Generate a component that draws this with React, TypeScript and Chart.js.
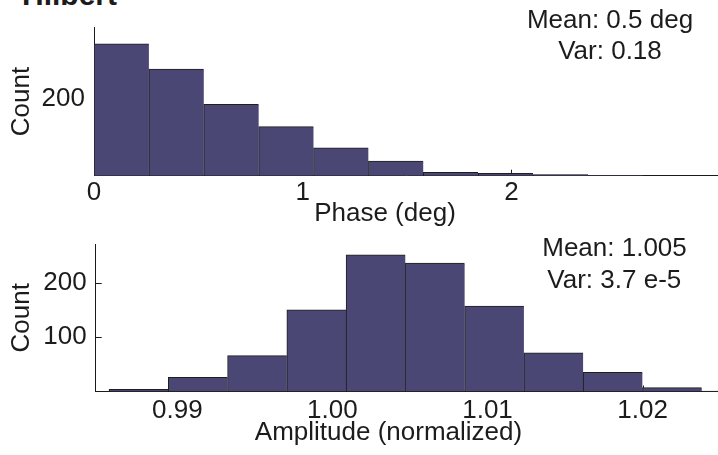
import React, { useEffect, useRef } from "react";
import { Chart, registerables } from "chart.js";

Chart.register(...registerables);

// ---- Data ----
const phaseBinCenters = [0.1315, 0.3945, 0.6575, 0.9205, 1.1835, 1.4465, 1.7095, 1.9725, 2.2355, 2.4985];
const phaseCounts = [344, 278, 186, 128, 73, 38, 9, 6, 3, 1];
const phaseTicks = [0, 1, 2];
const phaseCountTicks = [200];

const ampBinCenters = [
  0.9875105, 0.9913315, 0.9951525, 0.9989735, 1.0027945, 1.0066155,
  1.0104365, 1.0142575, 1.0180785, 1.0218995, 1.0257205,
];
const ampCounts = [4, 26, 66, 150, 251, 236, 157, 71, 35, 7, 1];
const ampTicks = [0.99, 1.0, 1.01, 1.02];
const ampCountTicks = [100, 200];

const phaseStats = ["Mean: 0.5 deg", "Var: 0.18"];
const ampStats = ["Mean: 1.005", "Var: 3.7 e-5"];

// ---- Styles ----
const FONT = "'Liberation Sans', Arial, Helvetica, sans-serif";
const TEXT = "#1c1c1c";
const AXIS = "#1a1a1a";
const BAR_FILL = "#4b4775";
const BAR_EDGE = "#1e1e1e";
const TICK_LEN = 6;

const inwardTicks = {
  id: "inwardTicks",
  beforeDatasetsDraw(chart: any) {
    const { ctx, chartArea, scales } = chart;
    ctx.save();
    ctx.strokeStyle = AXIS;
    ctx.lineWidth = 1;
    ctx.beginPath();
    scales.y.ticks.forEach((t: any) => {
      const p = Math.round(scales.y.getPixelForValue(t.value)) + 0.5;
      ctx.moveTo(chartArea.left, p);
      ctx.lineTo(chartArea.left + TICK_LEN, p);
    });
    scales.x.ticks.forEach((t: any) => {
      const p = Math.round(scales.x.getPixelForValue(t.value)) + 0.5;
      ctx.moveTo(p, chartArea.bottom);
      ctx.lineTo(p, chartArea.bottom - TICK_LEN);
    });
    ctx.stroke();
    ctx.restore();
  },
};

type Opts = {
  centers: number[];
  counts: number[];
  xTicks: number[];
  yTicks: number[];
  xMin: number;
  xMax: number;
  yMax: number;
  fmt: (v: number) => string;
  padTop: number;
  yWidth: number;
  xHeight: number;
  xPad: number;
};

function makeConfig(o: Opts): any {
  return {
    type: "bar",
    data: {
      datasets: [
        {
          data: o.centers.map((x, i) => ({ x, y: o.counts[i] })),
          backgroundColor: BAR_FILL,
          borderColor: BAR_EDGE,
          borderWidth: { top: 1, left: 1, right: 0, bottom: 0 },
          borderSkipped: "start",
          barPercentage: 1,
          categoryPercentage: 1,
        },
      ],
    },
    options: {
      responsive: false,
      animation: false,
      devicePixelRatio: 1,
      layout: { padding: { top: o.padTop, left: 0, right: 0, bottom: 0 } },
      plugins: { legend: { display: false }, tooltip: { enabled: false }, title: { display: false } },
      scales: {
        x: {
          type: "linear",
          min: o.xMin,
          max: o.xMax,
          offset: false,
          z: 1,
          grid: { display: false, drawTicks: false },
          border: { display: true, color: AXIS, width: 1 },
          afterBuildTicks: (s: any) => {
            s.ticks = o.xTicks.map((v) => ({ value: v }));
          },
          afterFit: (s: any) => {
            s.height = o.xHeight;
            s.paddingLeft = 0;
            s.paddingRight = 0;
          },
          ticks: {
            color: TEXT,
            font: { family: FONT, size: 26 },
            padding: o.xPad,
            maxRotation: 0,
            autoSkip: false,
            callback: (v: any) => o.fmt(Number(v)),
          },
        },
        y: {
          type: "linear",
          min: 0,
          max: o.yMax,
          z: 1,
          grid: { display: false, drawTicks: false },
          border: { display: true, color: AXIS, width: 1 },
          afterBuildTicks: (s: any) => {
            s.ticks = o.yTicks.map((v) => ({ value: v }));
          },
          afterFit: (s: any) => {
            s.width = o.yWidth;
            s.paddingTop = 0;
            s.paddingBottom = 0;
          },
          ticks: {
            color: TEXT,
            font: { family: FONT, size: 26 },
            padding: 9,
            autoSkip: false,
            callback: (v: any) => String(v),
          },
          title: {
            display: true,
            text: "Count",
            color: TEXT,
            font: { family: FONT, size: 26 },
            padding: { top: 6.4, bottom: 0 },
          },
        },
      },
    },
    plugins: [inwardTicks],
  };
}

function HistCanvas({ top, height, opts }: { top: number; height: number; opts: Opts }) {
  const ref = useRef<HTMLCanvasElement>(null);
  useEffect(() => {
    if (!ref.current) return;
    const chart = new Chart(ref.current, makeConfig(opts));
    return () => chart.destroy();
  }, []);
  return (
    <canvas
      ref={ref}
      width={718}
      height={height}
      style={{ position: "absolute", left: 0, top, width: 718, height }}
    />
  );
}

function Label({ text, cx, top, size = 26, bold = false }: { text: string; cx: number; top: number; size?: number; bold?: boolean }) {
  return (
    <div
      style={{
        position: "absolute",
        left: cx - 200,
        top,
        width: 400,
        textAlign: "center",
        fontFamily: FONT,
        fontSize: size,
        lineHeight: size + "px",
        fontWeight: bold ? "bold" : "normal",
        color: TEXT,
        whiteSpace: "nowrap",
      }}
    >
      {text}
    </div>
  );
}

export default function App() {
  const phaseOpts: Opts = {
    centers: phaseBinCenters,
    counts: phaseCounts,
    xTicks: phaseTicks,
    yTicks: phaseCountTicks,
    xMin: 0,
    xMax: 2.99,
    yMax: 387,
    fmt: (v) => String(v),
    padTop: 27.3,
    yWidth: 94,
    xHeight: 54.3,
    xPad: 2,
  };
  const ampOpts: Opts = {
    centers: ampBinCenters,
    counts: ampCounts,
    xTicks: ampTicks,
    yTicks: ampCountTicks,
    xMin: 0.98474,
    xMax: 1.02486,
    yMax: 271,
    fmt: (v) => v.toFixed(2),
    padTop: 16,
    yWidth: 95.7,
    xHeight: 63.5,
    xPad: 4,
  };
  return (
    <div
      style={{
        position: "absolute",
        left: 0,
        top: 0,
        width: 718,
        height: 455,
        overflow: "hidden",
        background: "#ffffff",
      }}
    >
      <div
        style={{
          position: "absolute",
          left: 22,
          top: -20.4,
          fontFamily: FONT,
          fontSize: 30,
          lineHeight: "30px",
          fontWeight: "bold",
          color: TEXT,
          whiteSpace: "nowrap",
        }}
      >
        Hilbert
      </div>
      <HistCanvas top={0} height={230} opts={phaseOpts} />
      <HistCanvas top={228} height={227} opts={ampOpts} />
      <Label text={phaseStats[0]} cx={610} top={5.7} />
      <Label text={phaseStats[1]} cx={610} top={37} />
      <Label text="Phase (deg)" cx={385} top={199} />
      <Label text={ampStats[0]} cx={614.5} top={233.7} />
      <Label text={ampStats[1]} cx={614.3} top={265.7} />
      <Label text="Amplitude (normalized)" cx={388.5} top={418.3} />
    </div>
  );
}
